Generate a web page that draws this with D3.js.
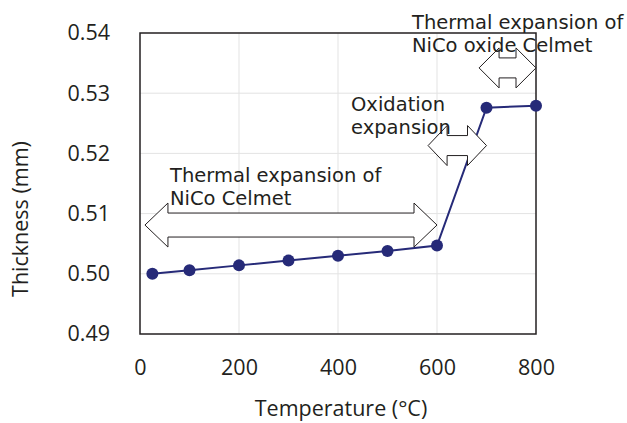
<!DOCTYPE html>
<html>
<head>
<meta charset="utf-8">
<script src="https://cdn.jsdelivr.net/npm/d3@7"></script>
<style>
  body { margin: 0; background: #fff; }
  svg { display: block; }
</style>
</head>
<body>
<div id="chart"></div>
<script>
// temperature (°C) vs thickness (mm)
const temps = [25, 100, 200, 300, 400, 500, 600, 700, 800];
const thickness = [0.5000, 0.5006, 0.5014, 0.5022, 0.5030, 0.5038, 0.5047, 0.5276, 0.5279];
const xTicks = [0, 200, 400, 600, 800];
const yTicks = [0.49, 0.50, 0.51, 0.52, 0.53, 0.54];

// double arrows: span in temperature and centre in thickness
const arrowFrom = [10, 582, 685];
const arrowTo = [600, 700, 800];
const arrowY = [0.5081, 0.5213, 0.5342];
const arrowLabels = [
    ["Thermal expansion of", "NiCo Celmet"],
    ["Oxidation", "expansion"],
    ["Thermal expansion of", "NiCo oxide Celmet"]
];

const W = 627, H = 423;
const m = {left: 140, top: 33, right: 91, bottom: 89};

const svg = d3.select("#chart").append("svg")
    .attr("width", W)
    .attr("height", H);

const x = d3.scaleLinear().domain([0, 800]).range([m.left, W - m.right]);
const y = d3.scaleLinear().domain([0.49, 0.54]).range([H - m.bottom, m.top]);

// grid
svg.append("g").selectAll("line.gx")
    .data(xTicks.slice(1, -1))
    .enter().append("line")
    .attr("x1", d => x(d)).attr("x2", d => x(d))
    .attr("y1", y(0.49)).attr("y2", y(0.54))
    .attr("stroke", "#e3e3e3").attr("stroke-width", 1);
svg.append("g").selectAll("line.gy")
    .data(yTicks.slice(1, -1))
    .enter().append("line")
    .attr("x1", x(0)).attr("x2", x(800))
    .attr("y1", d => y(d)).attr("y2", d => y(d))
    .attr("stroke", "#e3e3e3").attr("stroke-width", 1);

// axes (labels only)
const xAxis = svg.append("g")
    .attr("transform", `translate(0,${y(0.49)})`)
    .call(d3.axisBottom(x).tickValues(xTicks).tickSize(0).tickPadding(26).tickFormat(d3.format("d")));
const yAxis = svg.append("g")
    .attr("transform", `translate(${x(0)},0)`)
    .call(d3.axisLeft(y).tickValues(yTicks).tickSize(0).tickPadding(30).tickFormat(d3.format(".2f")));
[xAxis, yAxis].forEach(a => {
    a.select(".domain").remove();
    a.selectAll("text")
        .attr("font-family", "'Open Sans', sans-serif")
        .attr("font-size", 21.5)
        .attr("fill", "#231f20");
});

// frame
svg.append("rect")
    .attr("x", x(0)).attr("y", y(0.54))
    .attr("width", x(800) - x(0)).attr("height", y(0.49) - y(0.54))
    .attr("fill", "none").attr("stroke", "#231f20").attr("stroke-width", 1.5);

// line + markers
const line = d3.line().x((d, i) => x(temps[i])).y(d => y(d));
svg.append("path")
    .datum(thickness)
    .attr("d", line)
    .attr("fill", "none")
    .attr("stroke", "#262a78")
    .attr("stroke-width", 2);
svg.selectAll("circle")
    .data(thickness)
    .enter().append("circle")
    .attr("cx", (d, i) => x(temps[i]))
    .attr("cy", d => y(d))
    .attr("r", 6)
    .attr("fill", "#262a78");

// block double arrows
const bodyH = [12, 10, 10];
const headH = [22, 20, 20];
const headL = [23, 19, 20];
arrowFrom.forEach((f, i) => {
    const x0 = x(f), x1 = x(arrowTo[i]), cy = y(arrowY[i]);
    const b = bodyH[i], h = headH[i], l = headL[i];
    const pts = [
        [x0, cy], [x0 + l, cy - h], [x0 + l, cy - b], [x1 - l, cy - b], [x1 - l, cy - h],
        [x1, cy], [x1 - l, cy + h], [x1 - l, cy + b], [x0 + l, cy + b], [x0 + l, cy + h]
    ];
    svg.append("path")
        .attr("d", d3.line()(pts) + "Z")
        .attr("fill", "#fff")
        .attr("stroke", "#231f20")
        .attr("stroke-width", 1);
});

// annotation text
const labelX = [170, 351, 412];
const labelY = [181.5, 110.5, 28.5];
arrowLabels.forEach((lines, i) => {
    const t = svg.append("text")
        .attr("x", labelX[i]).attr("y", labelY[i])
        .attr("font-family", "'DejaVu Sans', Verdana, sans-serif")
        .attr("font-size", 19.5)
        .attr("fill", "#231f20");
    lines.forEach((s, j) => {
        t.append("tspan").attr("x", labelX[i]).attr("dy", j ? 23 : 0).text(s);
    });
});

// axis titles
svg.append("text")
    .attr("x", (x(0) + x(800)) / 2 + 3).attr("y", 416)
    .attr("text-anchor", "middle")
    .attr("font-family", "'Open Sans', sans-serif")
    .attr("font-size", 21.5)
    .attr("fill", "#231f20")
    .text("Temperature (°C)");
svg.append("text")
    .attr("transform", "translate(28,219) rotate(-90)")
    .attr("text-anchor", "middle")
    .attr("font-family", "'Open Sans', sans-serif")
    .attr("font-size", 21.5)
    .attr("fill", "#231f20")
    .text("Thickness (mm)");
</script>
</body>
</html>
